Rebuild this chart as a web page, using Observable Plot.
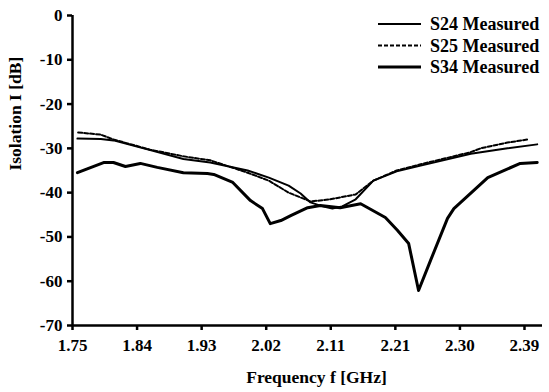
<!DOCTYPE html>
<html>
<head>
<meta charset="utf-8">
<script src="https://cdn.jsdelivr.net/npm/d3@7"></script>
<script src="https://cdn.jsdelivr.net/npm/@observablehq/plot@0.6"></script>
<style>
  html, body { margin: 0; padding: 0; background: white; }
</style>
</head>
<body>
<div id="chart"></div>
<script>
// Data (frequency in GHz, isolation in dB)
const s24Freq = [1.757, 1.790, 1.808, 1.860, 1.907, 1.945, 1.998, 2.028, 2.056, 2.073, 2.087, 2.104, 2.118, 2.132, 2.151, 2.176, 2.209, 2.243, 2.314, 2.366, 2.408];
const s24Db   = [-27.8, -27.9, -28.2, -30.4, -32.4, -33.2, -35.0, -36.6, -38.4, -40.2, -42.2, -43.1, -43.6, -43.1, -41.5, -37.3, -35.2, -33.9, -31.2, -30.0, -29.1];

const s25Freq = [1.758, 1.790, 1.808, 1.860, 1.907, 1.945, 1.998, 2.028, 2.056, 2.087, 2.115, 2.151, 2.176, 2.209, 2.243, 2.313, 2.328, 2.366, 2.394];
const s25Db   = [-26.4, -26.9, -28.0, -30.3, -31.8, -32.7, -35.5, -37.3, -40.0, -42.0, -41.5, -40.4, -37.3, -35.0, -33.6, -30.9, -30.0, -28.7, -28.0];

const s34Freq = [1.757, 1.794, 1.808, 1.825, 1.846, 1.870, 1.907, 1.941, 1.950, 1.977, 2.002, 2.019, 2.030, 2.045, 2.059, 2.083, 2.101, 2.129, 2.158, 2.193, 2.210, 2.226, 2.240, 2.257, 2.281, 2.290, 2.338, 2.384, 2.408];
const s34Db   = [-35.5, -33.2, -33.2, -34.1, -33.4, -34.3, -35.5, -35.7, -35.9, -37.7, -41.8, -43.6, -47.0, -46.3, -45.2, -43.4, -42.9, -43.4, -42.5, -45.6, -48.5, -51.5, -62.1, -55.3, -45.8, -43.6, -36.6, -33.4, -33.2];

const seriesNames = ["S24 Measured", "S25 Measured", "S34 Measured"];
const xTickLabels = ["1.75", "1.84", "1.93", "2.02", "2.11", "2.21", "2.30", "2.39"];
const yTicks = [0, -10, -20, -30, -40, -50, -60, -70];

const xStart = 1.75, xLastTick = 2.39, xEnd = 2.4155;
const xStep = (xLastTick - xStart) / (xTickLabels.length - 1);
const xTicks = xTickLabels.map((_, i) => xStart + i * xStep);

const toRows = (fs, ds) => fs.map((f, i) => ({f, db: ds[i]}));
const s24 = toRows(s24Freq, s24Db);
const s25 = toRows(s25Freq, s25Db);
const s34 = toRows(s34Freq, s34Db);

const font = "'Liberation Serif', 'Times New Roman', serif";

const chart = Plot.plot({
  width: 549,
  height: 392,
  marginLeft: 72,
  marginRight: 7,
  marginTop: 15,
  marginBottom: 67,
  style: {fontFamily: font, fontWeight: "bold", fontSize: "17px", color: "black", background: "white"},
  x: {domain: [xStart, xEnd]},
  y: {domain: [-70, 0]},
  marks: [
    Plot.axisY({ticks: yTicks, tickSize: 5, tickPadding: 5, strokeWidth: 2.5, label: null,
      tickFormat: d => String(d), fontSize: 17}),
    Plot.axisX({ticks: xTicks, tickSize: 5, tickPadding: 8, strokeWidth: 2.5, label: null,
      tickFormat: d => xTickLabels[Math.round((d - xStart) / xStep)], fontSize: 17}),
    Plot.ruleX([xStart], {strokeWidth: 2.5}),
    Plot.ruleY([-70], {strokeWidth: 2.5}),
    Plot.line(s24, {x: "f", y: "db", stroke: "black", strokeWidth: 2}),
    Plot.line(s25, {x: "f", y: "db", stroke: "black", strokeWidth: 2, strokeDasharray: "4,2"}),
    Plot.line(s34, {x: "f", y: "db", stroke: "black", strokeWidth: 3}),
    Plot.text(["Frequency f [GHz]"], {frameAnchor: "bottom", dy: 57, dx: 9, fontSize: 17.5, fontWeight: "bold"}),
    Plot.text(["Isolation I [dB]"], {frameAnchor: "left", dx: -57, rotate: -90, fontSize: 17.5, fontWeight: "bold"})
  ]
});

// Legend in the top-right corner of the plot area
const svg = d3.select(chart);
const lg = svg.append("g")
  .attr("font-family", font)
  .attr("font-weight", "bold")
  .attr("font-size", 18)
  .attr("text-anchor", "start");
const legendStyles = [
  {w: 2, dash: null},
  {w: 2, dash: "4,2"},
  {w: 3, dash: null}
];
seriesNames.forEach((name, i) => {
  const y = 24 + i * 21.5;
  const ln = lg.append("line").attr("x1", 378).attr("x2", 421).attr("y1", y).attr("y2", y)
    .attr("stroke", "black").attr("stroke-width", legendStyles[i].w);
  if (legendStyles[i].dash) ln.attr("stroke-dasharray", legendStyles[i].dash);
  lg.append("text").attr("x", 430).attr("y", y).attr("dy", "0.35em")
    .attr("text-anchor", "start").attr("fill", "black").text(name);
});

document.getElementById("chart").appendChild(chart);
</script>
</body>
</html>
